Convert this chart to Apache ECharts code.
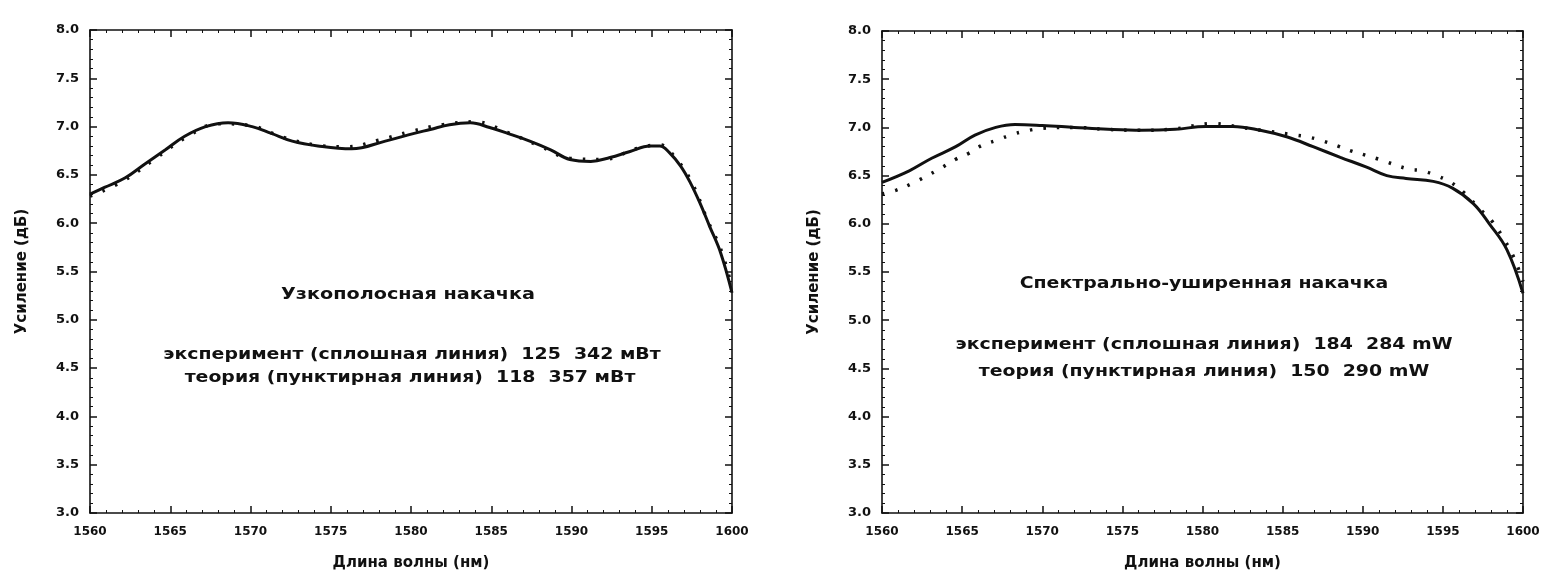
<!DOCTYPE html>
<html>
<head>
<meta charset="utf-8">
<script src="https://cdn.jsdelivr.net/npm/echarts@6/dist/echarts.min.js"></script>
<style>
  html, body { margin: 0; padding: 0; background: #fff; }
  #chart { width: 1546px; height: 576px; }
</style>
</head>
<body>
<div id="chart"></div>
<script>
// ---- data ----
const xTicks = [1560, 1565, 1570, 1575, 1580, 1585, 1590, 1595, 1600];
const yTicks = [3.0, 3.5, 4.0, 4.5, 5.0, 5.5, 6.0, 6.5, 7.0, 7.5, 8.0];

// Left panel: narrow-band pump
const wlExpNarrow = [1560, 1560.9, 1562.2, 1563.4, 1564.7, 1565.9, 1567.2, 1568.6, 1570.1, 1571.3, 1572.6, 1574.2, 1576.3, 1578.4, 1580.2, 1581.2, 1582.4, 1583.7, 1584.9, 1586.2, 1587.4, 1588.7, 1589.9, 1591.2, 1592.4, 1593.6, 1594.9, 1595.5, 1596.1, 1596.8, 1597.4, 1598.0, 1598.6, 1599.3, 1600];
const gainExpNarrow = [6.30, 6.37, 6.47, 6.61, 6.76, 6.90, 7.00, 7.04, 7.00, 6.93, 6.85, 6.80, 6.77, 6.85, 6.93, 6.97, 7.02, 7.04, 6.99, 6.92, 6.85, 6.76, 6.66, 6.64, 6.68, 6.74, 6.80, 6.80, 6.73, 6.59, 6.42, 6.21, 5.97, 5.69, 5.28];
const wlTheoryNarrow = [1560, 1562, 1564, 1566, 1568, 1570, 1572, 1574, 1576, 1578, 1580, 1582, 1584, 1586, 1588, 1590, 1592, 1594, 1595.5, 1596.5, 1597.5, 1598.5, 1599.3, 1600];
const gainTheoryNarrow = [6.28, 6.43, 6.66, 6.89, 7.03, 7.01, 6.89, 6.81, 6.79, 6.86, 6.95, 7.02, 7.05, 6.94, 6.80, 6.67, 6.66, 6.77, 6.81, 6.67, 6.42, 6.02, 5.73, 5.33];

// Right panel: spectrally broadened pump
const wlExpWide = [1560, 1561.7, 1563.1, 1564.6, 1565.8, 1567.1, 1568.3, 1570, 1572, 1574.1, 1576.2, 1578.3, 1580.2, 1581.9, 1583.6, 1585.3, 1586.9, 1588.6, 1590.2, 1591.5, 1592.7, 1594.4, 1595.6, 1596.9, 1597.9, 1599.0, 1600];
const gainExpWide = [6.43, 6.55, 6.68, 6.80, 6.92, 7.00, 7.03, 7.02, 7.00, 6.98, 6.97, 6.98, 7.01, 7.01, 6.97, 6.90, 6.80, 6.69, 6.59, 6.50, 6.47, 6.44, 6.37, 6.21, 6.00, 5.73, 5.28];
const wlTheoryWide = [1560, 1560.9, 1561.9, 1563.6, 1564.6, 1565.4, 1566.2, 1567.2, 1568.0, 1568.9, 1570, 1572, 1574, 1576, 1578, 1580.7, 1582.4, 1584.1, 1585.8, 1586.6, 1587.5, 1588.4, 1589.2, 1590.2, 1591.0, 1592.8, 1593.7, 1594.6, 1595.5, 1596.4, 1597.2, 1598.1, 1598.7, 1599.4, 1600];
const gainTheoryWide = [6.31, 6.35, 6.42, 6.57, 6.67, 6.73, 6.81, 6.87, 6.92, 6.96, 6.99, 7.00, 6.98, 6.97, 6.98, 7.04, 7.00, 6.96, 6.92, 6.90, 6.86, 6.81, 6.76, 6.71, 6.67, 6.57, 6.55, 6.50, 6.43, 6.31, 6.17, 6.02, 5.87, 5.66, 5.40];

// texts
const xAxisTitle = 'Длина волны (нм)';
const yAxisTitle = 'Усиление (дБ)';
const leftTitle = 'Узкополосная накачка';
const leftLine1 = 'эксперимент (сплошная линия)  125  342 мВт';
const leftLine2 = 'теория (пунктирная линия)  118  357 мВт';
const rightTitle = 'Спектрально-уширенная накачка';
const rightLine1 = 'эксперимент (сплошная линия)  184  284 mW';
const rightLine2 = 'теория (пунктирная линия)  150  290 mW';

// ---- chart ----
const INK = '#111';
const FONT = 'DejaVu Sans';
const pairs = (xs, ys) => xs.map((x, i) => [x, ys[i]]);

function xAx(grid, pos, showLabel) {
  return {
    type: 'value', gridIndex: grid, position: pos,
    min: xTicks[0], max: xTicks[xTicks.length - 1], interval: 5,
    name: showLabel ? xAxisTitle : '', nameLocation: 'middle', nameGap: 43,
    nameTextStyle: { color: INK, fontFamily: FONT, fontSize: 15, fontWeight: 'bold' },
    axisLine: { show: true, onZero: false, lineStyle: { color: INK, width: 1.6 } },
    axisTick: { show: true, inside: true, length: 7, lineStyle: { color: INK, width: 1.5 } },
    minorTick: { show: true, splitNumber: 5, length: 3, lineStyle: { color: INK, width: 1 } },
    axisLabel: { show: showLabel, color: INK, fontFamily: FONT, fontSize: 12, fontWeight: 'bold', margin: 13,
                 formatter: v => String(v) },
    splitLine: { show: false }
  };
}
function yAx(grid, pos, showLabel) {
  return {
    type: 'value', gridIndex: grid, position: pos,
    min: yTicks[0], max: yTicks[yTicks.length - 1], interval: 0.5,
    name: showLabel ? yAxisTitle : '', nameLocation: 'middle', nameGap: 60, nameRotate: 90,
    nameTextStyle: { color: INK, fontFamily: FONT, fontSize: 15, fontWeight: 'bold' },
    axisLine: { show: true, onZero: false, lineStyle: { color: INK, width: 1.6 } },
    axisTick: { show: true, inside: true, length: 7, lineStyle: { color: INK, width: 1.5 } },
    minorTick: { show: true, splitNumber: 5, length: 3, lineStyle: { color: INK, width: 1 } },
    axisLabel: { show: showLabel, color: INK, fontFamily: FONT, fontSize: 13, fontWeight: 'bold', margin: 11,
                 formatter: v => v.toFixed(1) },
    splitLine: { show: false }
  };
}
function solid(xi, yi, data) {
  return { type: 'line', xAxisIndex: xi, yAxisIndex: yi, data, smooth: 0.4, showSymbol: false,
           lineStyle: { color: INK, width: 3 }, z: 3, animation: false };
}
function dotted(xi, yi, data) {
  return { type: 'line', xAxisIndex: xi, yAxisIndex: yi, data, smooth: 0.4, showSymbol: false,
           lineStyle: { color: INK, width: 3.5, type: [2.5, 11] }, z: 2, animation: false };
}
function txt(x, y, s, size, sx) {
  return { type: 'text', x, y, scaleX: sx, style: { text: s, fill: INK, font: `bold ${size}px "${FONT}"`,
           textAlign: 'center', textVerticalAlign: 'middle' } };
}

const chart = echarts.init(document.getElementById('chart'), null, { renderer: 'canvas' });
chart.setOption({
  animation: false,
  backgroundColor: '#fff',
  grid: [
    { left: 90, right: 814, top: 30, bottom: 63 },
    { left: 882, right: 23, top: 31, bottom: 63 }
  ],
  xAxis: [xAx(0, 'bottom', true), xAx(1, 'bottom', true), xAx(0, 'top', false), xAx(1, 'top', false)],
  yAxis: [yAx(0, 'left', true), yAx(1, 'left', true), yAx(0, 'right', false), yAx(1, 'right', false)],
  series: [
    dotted(0, 0, pairs(wlTheoryNarrow, gainTheoryNarrow)),
    solid(0, 0, pairs(wlExpNarrow, gainExpNarrow)),
    dotted(1, 1, pairs(wlTheoryWide, gainTheoryWide)),
    solid(1, 1, pairs(wlExpWide, gainExpWide))
  ],
  graphic: [
    txt(408, 295, leftTitle, 16, 1.2),
    txt(412, 355, leftLine1, 16, 1.18),
    txt(410, 378, leftLine2, 16, 1.18),
    txt(1204, 284, rightTitle, 16, 1.18),
    txt(1204, 345, rightLine1, 16, 1.18),
    txt(1204, 372, rightLine2, 16, 1.18)
  ]
});
</script>
</body>
</html>
